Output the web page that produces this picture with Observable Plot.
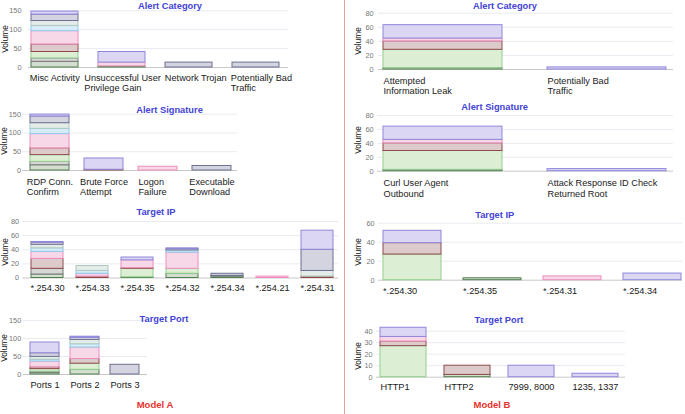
<!DOCTYPE html>
<html><head><meta charset="utf-8">
<script src="https://cdn.jsdelivr.net/npm/d3@7"></script>
<script src="https://cdn.jsdelivr.net/npm/@observablehq/plot@0.6"></script>
<style>
html,body{margin:0;padding:0;background:#fff;}
#chart{position:relative;width:685px;height:414px;overflow:hidden;font-family:"Liberation Sans",Arial,sans-serif;background:#fff;}
#chart svg{position:absolute;left:0;top:0;}
.ttl{position:absolute;font-weight:bold;font-size:9.3px;line-height:1.1;color:#4343d6;transform:translate(-50%,-50%);white-space:nowrap;}
.mdl{position:absolute;font-weight:bold;font-size:9.5px;line-height:1.1;color:#e8322e;transform:translate(-50%,-50%);white-space:nowrap;}
.vol{position:absolute;font-size:8.3px;line-height:1;color:#111;transform:translate(-50%,-50%) rotate(-90deg);white-space:nowrap;}
.sep{position:absolute;left:344px;top:0;width:1px;height:414px;background:#e9a0a0;}
</style></head>
<body><div id="chart"><div class="sep"></div></div>
<script>
// ---- series (stack order bottom -> top) ----
const seriesNames = ["S1","S2","S3","S4","S5","S6","S7","S8","S9"];
const seriesFill   = ["#d3ddd0","#d7d7d7","#dcefd5","#ddcbcb","#f7d8e8","#d8ecf7","#e3ece9","#d3d4df","#dbd7f2"];
const seriesStroke = ["#4f7e4f","#7b7b7b","#92cf8c","#8f4b4b","#ee8dbd","#8dccee","#b0c8c0","#6f6f93","#8f87dd"];

// ---- Model A ----
const alertCategoryA = ["Misc Activity","Unsuccessful User\nPrivilege Gain","Network Trojan","Potentially Bad\nTraffic"];
const alertCategoryAValues = [
  [15,9,17,20,35,14,13,17,8],
  [3,0,0,0,10,0,0,0,28],
  [0,0,0,0,0,0,0,13,0],
  [0,0,0,0,0,0,0,13,0]
];
const alertSignatureA = ["RDP Conn.\nConfirm","Brute Force\nAttempt","Logon\nFailure","Executable\nDownload"];
const alertSignatureAValues = [
  [14,9,18,18,38,14,15,18,5],
  [0,0,0,2,0,0,0,0,30],
  [0,0,0,0,10,0,0,0,0],
  [0,0,0,0,0,0,0,12,0]
];
const targetIpA = ["*.254.30","*.254.33","*.254.35","*.254.32","*.254.34","*.254.21","*.254.31"];
const targetIpAValues = [
  [5,8,0,14,10,5,5,3,1],
  [0,0,0,2,4,4,7,0,0],
  [1,0,12,1,11,0,0,0,4],
  [6,0,7,0,23,3,0,2,1],
  [2,1,0,0,0,0,0,3,0],
  [0,0,0,0,2,0,0,0,0],
  [0,0,0,2,0,0,8,30,27]
];
const targetPortA = ["Ports 1","Ports 2","Ports 3"];
const targetPortAValues = [
  [4,4,7,5,16,5,8,10,30],
  [13,0,17,13,32,9,12,6,3],
  [0,0,0,0,0,0,0,27,0]
];

// ---- Model B ----
const alertCategoryB = ["Attempted\nInformation Leak","Potentially Bad\nTraffic"];
const alertCategoryBValues = [
  [2,0,26,12,4,0,0,0,19],
  [0,0,0,0,0,0,0,0,3]
];
const alertSignatureB = ["Curl User Agent\nOutbound","Attack Response ID Check\nReturned Root"];
const alertSignatureBValues = [
  [2,0,27,11,5,0,0,0,19],
  [0,0,0,0,0,0,0,0,3]
];
const targetIpB = ["*.254.30","*.254.35","*.254.31","*.254.34"];
const targetIpBValues = [
  [0,0,27,12,0,0,0,0,13],
  [2,0,0,0,0,0,0,0,0],
  [0,0,0,0,4,0,0,0,0],
  [0,0,0,0,0,0,0,0,7]
];
const targetPortB = ["HTTP1","HTTP2","7999, 8000","1235, 1337"];
const targetPortBValues = [
  [0,0,27,4,4,0,0,0,8],
  [2,0,0,8,0,0,0,0,0],
  [0,0,0,0,0,0,0,0,10],
  [0,0,0,0,0,0,0,0,3]
];

const ticks150 = [0,50,100,150];
const ticks80 = [0,20,40,60,80];
const ticks60 = [0,20,40,60];
const ticks40 = [0,10,20,30,40];
const panelTitles = ["Alert Category","Alert Signature","Target IP","Target Port"];
const modelNames = ["Model A","Model B"];
const axisTitle = "Volume";

// ---- layout ----
const panels = [
  {cats:alertCategoryA, vals:alertCategoryAValues, ticks:ticks150, title:panelTitles[0], x0:28, x1:288, yTop:10.3, yBot:67, tickRight:21, barStart:31, step:67, barW:47, tx:170, ty:5.5, vx:4.5, vy:39, lo:9.5},
  {cats:alertSignatureA, vals:alertSignatureAValues, ticks:ticks150, title:panelTitles[1], x0:22, x1:237, yTop:113.7, yBot:170, tickRight:20.5, barStart:30, step:54, barW:39, tx:169.5, ty:110, vx:4, vy:141, lo:10.5},
  {cats:targetIpA, vals:targetIpAValues, ticks:ticks80, title:panelTitles[2], x0:22, x1:338, yTop:221, yBot:277.5, tickRight:18.5, barStart:29, step:45.5, barW:32, tx:156, ty:211.5, vx:5, vy:252, lo:9.5},
  {cats:targetPortA, vals:targetPortAValues, ticks:ticks150, title:panelTitles[3], x0:23, x1:147, yTop:320, yBot:374, tickRight:20.7, barStart:29, step:40.5, barW:29, tx:164, ty:319, vx:4, vy:348, lo:10},
  {cats:alertCategoryB, vals:alertCategoryBValues, ticks:ticks80, title:panelTitles[0], x0:378, x1:673, yTop:12.7, yBot:69, tickRight:373, barStart:383, step:164, barW:119, tx:505, ty:5.5, vx:358, vy:41, lo:10.5},
  {cats:alertSignatureB, vals:alertSignatureBValues, ticks:ticks80, title:panelTitles[1], x0:377, x1:673, yTop:115, yBot:170.7, tickRight:373, barStart:383, step:164, barW:119, tx:494.7, ty:106.5, vx:358, vy:140, lo:11.5},
  {cats:targetIpB, vals:targetIpBValues, ticks:ticks60, title:panelTitles[2], x0:378, x1:682, yTop:222.7, yBot:279.7, tickRight:374, barStart:382, step:80.7, barW:59, tx:494.7, ty:214.5, vx:358, vy:252, lo:10.3},
  {cats:targetPortB, vals:targetPortBValues, ticks:ticks40, title:panelTitles[3], x0:376, x1:625, yTop:330.7, yBot:376.7, tickRight:372, barStart:379, step:64.3, barW:46, tx:499, ty:319.7, vx:358, vy:356, lo:9}
];
const models = [{name:modelNames[0], x:155, y:405},{name:modelNames[1], x:492, y:405}];

const W = 685, H = 414;
const labelSize = 9.2;
const canvas = document.createElement("canvas");
const ctx = canvas.getContext("2d");
function measure(t){ ctx.font = `${labelSize}px "Liberation Sans", Arial, sans-serif`; return ctx.measureText(t).width; }

const chart = document.getElementById("chart");

function addDiv(cls, text, x, y){
  const d = document.createElement("div");
  d.className = cls; d.textContent = text;
  d.style.left = x + "px"; d.style.top = y + "px";
  chart.appendChild(d);
}

for (const p of panels) {
  const data = [];
  p.cats.forEach((c, i) => p.vals[i].forEach((v, j) => {
    if (v > 0) data.push({category: c, series: seriesNames[j], idx: j, value: v});
  }));
  const n = p.cats.length;
  const ymax = p.ticks[p.ticks.length - 1];
  // label placement: block centred on bar (never starting right of the bar), no overlap with previous label
  let prevEnd = -Infinity;
  const labelMarks = p.cats.map((c, i) => {
    const w = Math.max(...c.split("\n").map(measure));
    const center = p.barStart + i * p.step + p.barW / 2;
    let start = center - Math.max(w, p.barW) / 2;
    if (start < prevEnd + 4) start = prevEnd + 4;
    prevEnd = start + w;
    return Plot.text([c], {
      x: d => d, frameAnchor: "bottom", textAnchor: "start", lineAnchor: "top",
      dx: start - center, dy: p.lo - 3.6,
      fontSize: labelSize, lineHeight: 1.13, fill: "#1a1a1a"
    });
  });
  const svg = Plot.plot({
    width: W, height: H,
    marginLeft: p.x0, marginRight: W - p.x1, marginTop: p.yTop, marginBottom: H - p.yBot,
    style: {background: "transparent", fontFamily: '"Liberation Sans", Arial, sans-serif', fontSize: "7.3px", color: "#777", overflow: "visible"},
    x: {type: "band", domain: p.cats, range: [p.barStart, p.barStart + (n - 1) * p.step + p.barW],
        paddingInner: 1 - p.barW / p.step, paddingOuter: 0, axis: null},
    y: {domain: [0, ymax], range: [p.yBot, p.yTop], ticks: p.ticks, tickSize: 0,
        tickPadding: Math.max(1, p.x0 - p.tickRight), label: null, tickFormat: d => String(d)},
    color: {type: "identity"},
    marks: [
      Plot.ruleY(p.ticks.filter(t => t > 0), {stroke: "#e9ebf3"}),
      Plot.ruleY([0], {stroke: "#c8c8c8"}),
      Plot.barY(data, {x: "category", y: "value", z: "series",
        fill: d => seriesFill[d.idx], stroke: d => seriesStroke[d.idx], strokeWidth: 1}),
      ...labelMarks
    ]
  });
  chart.appendChild(svg);
  addDiv("ttl", p.title, p.tx, p.ty);
  addDiv("vol", axisTitle, p.vx, p.vy);
}
for (const m of models) addDiv("mdl", m.name, m.x, m.y);
</script>
</body></html>
